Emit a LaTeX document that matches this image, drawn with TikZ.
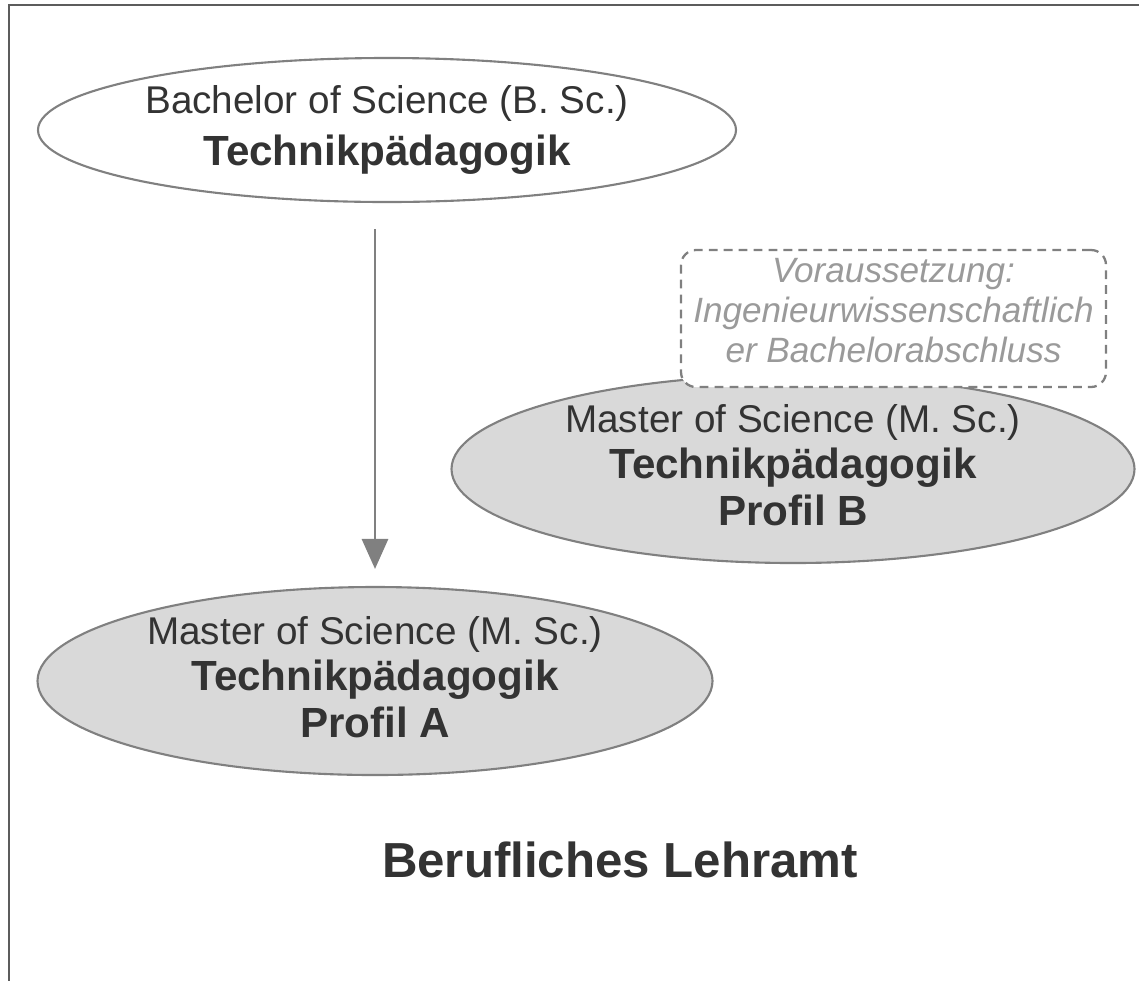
\documentclass[tikz,border=0pt]{standalone}
\usepackage{fontspec}
\setmainfont{Liberation Sans}
\usepackage{tikz}
\usetikzlibrary{arrows.meta,shapes.geometric}

\definecolor{linegray}{HTML}{808080}
\definecolor{fillgray}{HTML}{D9D9D9}
\definecolor{textdark}{HTML}{333333}
\definecolor{notegray}{HTML}{9A9A9A}

\begin{document}
\begin{tikzpicture}[
    prog/.style={ellipse,draw=linegray,line width=1.2pt,inner sep=0pt,
      text=textdark,align=center},
    master/.style={prog,fill=fillgray,text depth=5pt},
    cond/.style={draw=linegray,dash pattern=on 5pt off 3.5pt,line width=1.3pt,
      rounded corners=0.3cm,fill=white,inner sep=0pt,text=notegray,align=center,
      font=\itshape\fontsize{20}{22.7}\selectfont},
    flow/.style={-{Triangle[width=0.52cm,length=0.6cm]},draw=linegray,
      line width=1.7pt}
  ]
  \useasboundingbox (0,0) rectangle (22.78,-19.62);

  % frame
  \draw[textdark!80,line width=1pt] (22.78,-0.1) -- (0.18,-0.1) -- (0.18,-19.62);

  % programmes
  \node[prog,minimum width=13.96cm,minimum height=2.88cm] (bsc) at (7.74,-2.6)
    {\fontsize{22}{27}\selectfont Bachelor of Science (B. Sc.)\\[7pt]
     \bfseries\fontsize{24}{27}\selectfont Technikpädagogik};
  \node[master,minimum width=13.5cm,minimum height=3.76cm] (msca) at (7.5,-13.62)
    {\fontsize{22}{27}\selectfont Master of Science (M. Sc.)\\[3.5pt]
     \bfseries\fontsize{24}{27}\selectfont Technikpädagogik\\[3pt]
     \bfseries\fontsize{24}{27}\selectfont Profil A};
  \node[master,minimum width=13.66cm,minimum height=3.76cm] (mscb) at (15.86,-9.38)
    {\fontsize{22}{27}\selectfont Master of Science (M. Sc.)\\[3.5pt]
     \bfseries\fontsize{24}{27}\selectfont Technikpädagogik\\[3pt]
     \bfseries\fontsize{24}{27}\selectfont Profil B};

  % requirement for profile B
  \node[cond,minimum width=8.5cm,minimum height=2.74cm,text depth=9.5pt] (req) at (17.87,-6.37)
    {Voraussetzung:\\ Ingenieurwissenschaftlich\\ er Bachelorabschluss};

  \draw[flow] ([yshift=-0.52cm]bsc.south -| msca.north) -- ([yshift=0.34cm]msca.north);

  \node[text=textdark,font=\bfseries\fontsize{28}{32}\selectfont] (title) at (12.4,-17.2)
    {Berufliches Lehramt};
\end{tikzpicture}
\end{document}
